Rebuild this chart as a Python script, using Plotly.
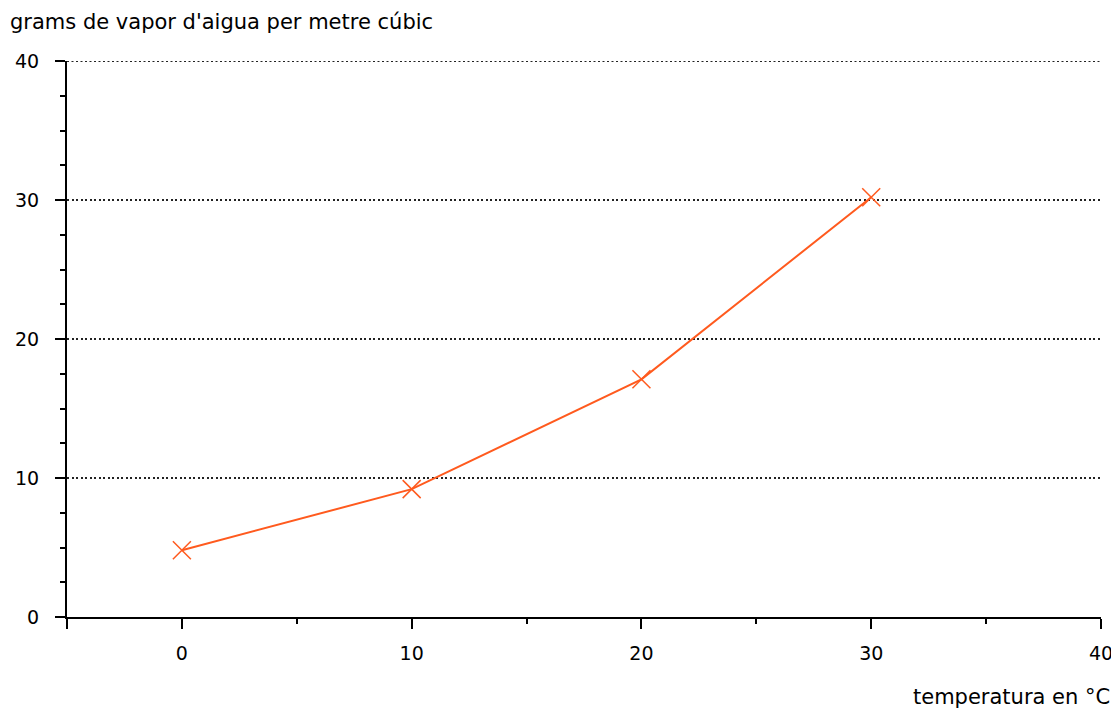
import plotly.graph_objects as go

temperatura = [0, 10, 20, 30]
grams_vapor = [4.8, 9.2, 17.1, 30.2]

x_tickvals = [-5, 0, 10, 20, 30, 40]
x_ticktext = ["", "0", "10", "20", "30", "40"]
y_tickvals = [0, 10, 20, 30, 40]

y_title = "grams de vapor d'aigua per metre cúbic"
x_title = "temperatura en °C"

FONT = "DejaVu Sans"
ORANGE = "#FF5A1E"
GRID_DASH = "2px,2.5px"

fig = go.Figure()
fig.add_trace(go.Scatter(
    x=temperatura, y=grams_vapor, mode="lines+markers",
    line=dict(color=ORANGE, width=2),
    marker=dict(symbol="x-thin-open", size=18, color=ORANGE,
                line=dict(color=ORANGE, width=1.5)),
    showlegend=False, hoverinfo="skip"))

# top gridline at the range edge (plotly hides it)
fig.add_shape(type="line", xref="paper", yref="y", x0=0, x1=1, y0=40, y1=40,
              line=dict(color="#222", width=2, dash=GRID_DASH), layer="below")

fig.update_layout(
    width=1111, height=703,
    margin=dict(l=59, r=18, t=53, b=94, autoexpand=False),
    paper_bgcolor="white", plot_bgcolor="white",
    font=dict(family=FONT, size=19, color="black"),
    annotations=[
        dict(text=y_title, xref="paper", yref="paper", x=-0.0572, y=1.0701,
             xanchor="left", yanchor="middle", showarrow=False,
             font=dict(family=FONT, size=21, color="black")),
        dict(text=x_title, xref="paper", yref="paper", x=1.0106, y=-0.1439,
             xanchor="right", yanchor="middle", showarrow=False,
             font=dict(family=FONT, size=21, color="black")),
    ],
)
fig.update_xaxes(
    range=[-5, 40], tickmode="array", tickvals=x_tickvals, ticktext=x_ticktext,
    showgrid=False, zeroline=False, automargin=False,
    showline=True, linecolor="black", linewidth=2,
    ticks="outside", ticklen=10, tickwidth=2, tickcolor="black",
    ticklabelstandoff=8,
    minor=dict(tickmode="array", tickvals=[5, 15, 25, 35], ticks="outside",
               ticklen=5, tickwidth=2, tickcolor="black"),
    tickfont=dict(family=FONT, size=19, color="black"),
)
fig.update_yaxes(
    range=[0, 40], tickmode="array", tickvals=y_tickvals,
    showgrid=True, gridcolor="#222", griddash=GRID_DASH, gridwidth=1.5,
    zeroline=False, automargin=False,
    showline=True, linecolor="black", linewidth=2,
    ticks="outside", ticklen=10, tickwidth=2, tickcolor="black",
    ticklabelstandoff=12,
    minor=dict(dtick=2.5, tick0=0, ticks="outside", ticklen=5, tickwidth=2,
               tickcolor="black", showgrid=False),
    tickfont=dict(family=FONT, size=19, color="black"),
)

fig.write_html("out.html")
